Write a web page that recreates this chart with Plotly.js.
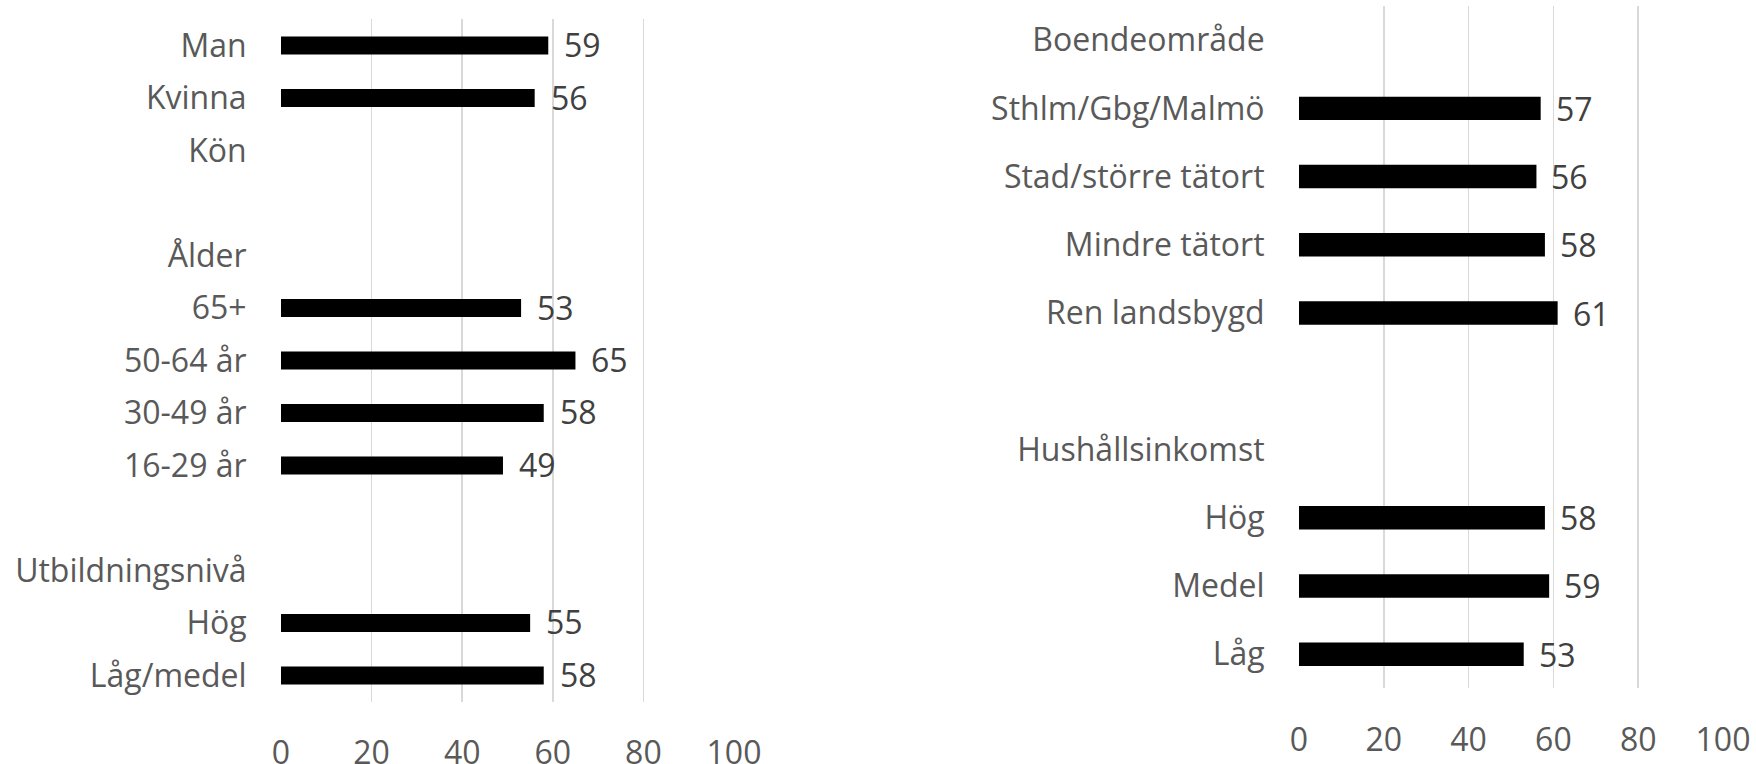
<!DOCTYPE html>
<html>
<head>
<meta charset="utf-8">
<script src="https://cdn.plot.ly/plotly-3.0.1.min.js"></script>
<style>
html,body{margin:0;padding:0;background:#fff;}
#chart{width:1756px;height:764px;}
</style>
</head>
<body>
<div id="chart"></div>
<script>
// Left panel
const leftCategories = ["Man","Kvinna","Kön","","Ålder","65+","50-64 år","30-49 år","16-29 år","","Utbildningsnivå","Hög","Låg/medel"];
const leftValues = [59,56,null,null,null,53,65,58,49,null,null,55,58];
// Right panel
const rightCategories = ["Boendeområde","Sthlm/Gbg/Malmö","Stad/större tätort","Mindre tätort","Ren landsbygd","","Hushållsinkomst","Hög","Medel","Låg"];
const rightValues = [null,57,56,58,61,null,null,58,59,53];
const xTicks = [0,20,40,60,80,100];

const FONT = "Open Sans, Noto Sans, sans-serif";
const FS = 32;
const W = 1756, H = 764;

const leftIdx = leftCategories.map((_, i) => i);
const rightIdx = rightCategories.map((_, i) => i);

const traces = [
  {type:'bar', orientation:'h', x:leftValues, y:leftIdx, xaxis:'x', yaxis:'y',
   width:0.343, marker:{color:'#000000', line:{width:0}}, hoverinfo:'none'},
  {type:'bar', orientation:'h', x:rightValues, y:rightIdx, xaxis:'x2', yaxis:'y2',
   width:0.343, marker:{color:'#000000', line:{width:0}}, hoverinfo:'none'}
];

const annotations = [];
leftValues.forEach((v, i) => {
  if (v === null) return;
  annotations.push({x:v, y:i, xref:'x', yref:'y', text:String(v), showarrow:false,
    xanchor:'left', yanchor:'middle', xshift:14, yshift:1,
    font:{family:FONT, size:FS, color:'#404040'}});
});
rightValues.forEach((v, i) => {
  if (v === null) return;
  annotations.push({x:v, y:i, xref:'x2', yref:'y2', text:String(v), showarrow:false,
    xanchor:'left', yanchor:'middle', xshift:13, yshift:0,
    font:{family:FONT, size:FS, color:'#404040'}});
});

const xCommon = {
  range:[0,100], tickvals:xTicks, ticktext:xTicks.map(String),
  showgrid:true, gridcolor:'#d9d9d9', gridwidth:1.5, zeroline:false, showline:false,
  ticks:'outside', ticklen:23, tickcolor:'rgba(0,0,0,0)',
  tickfont:{family:FONT, size:FS, color:'#595959'}, fixedrange:true
};
const yCommon = {
  showgrid:false, zeroline:false, showline:false,
  ticks:'outside', ticklen:27, tickcolor:'rgba(0,0,0,0)',
  tickfont:{family:FONT, size:FS, color:'#595959'}, fixedrange:true
};

const layout = {
  width:W, height:H,
  margin:{l:0, r:0, t:0, b:0, pad:0},
  paper_bgcolor:'#ffffff', plot_bgcolor:'#ffffff',
  showlegend:false,
  font:{family:FONT, size:FS, color:'#595959'},
  xaxis:Object.assign({}, xCommon, {domain:[281/W, 734/W], anchor:'y'}),
  xaxis2:Object.assign({}, xCommon, {domain:[1299/W, 1723/W], anchor:'y2'}),
  yaxis:Object.assign({}, yCommon, {
    domain:[(H-701.7)/H, (H-19.3)/H], anchor:'x',
    range:[leftCategories.length-0.5, -0.5],
    tickvals:leftIdx, ticktext:leftCategories}),
  yaxis2:Object.assign({}, yCommon, {
    domain:[(H-688.3)/H, (H-6)/H], anchor:'x2',
    range:[rightCategories.length-0.5, -0.5],
    tickvals:rightIdx, ticktext:rightCategories}),
  annotations:annotations
};

Plotly.newPlot('chart', traces, layout, {displayModeBar:false, staticPlot:true});
</script>
</body>
</html>
